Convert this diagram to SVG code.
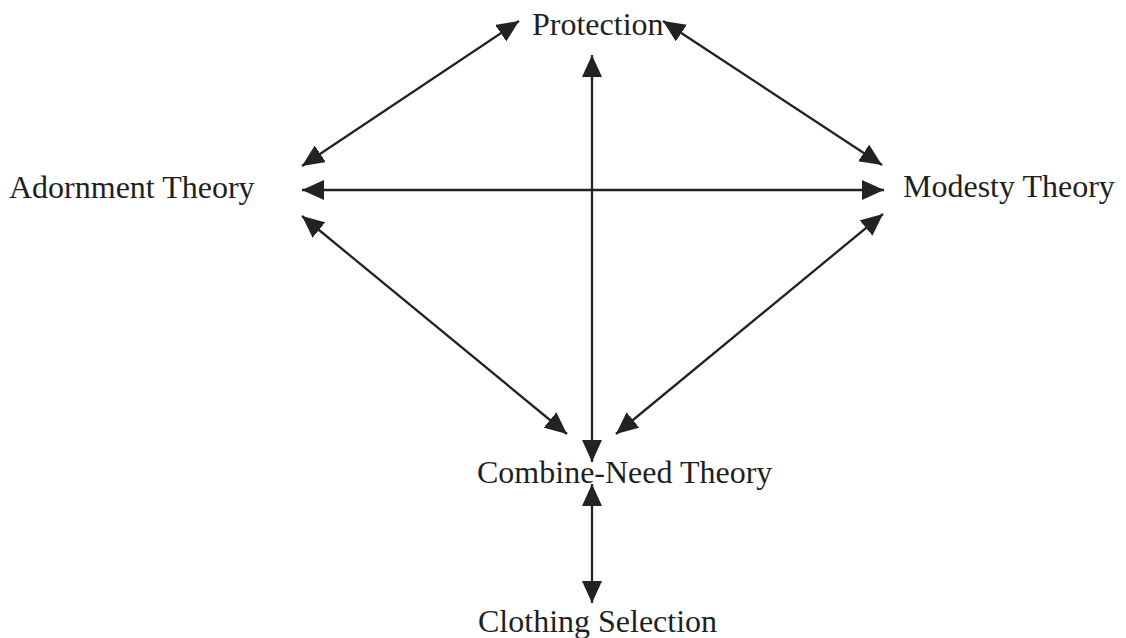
<svg xmlns="http://www.w3.org/2000/svg" width="1126" height="638" viewBox="0 0 1126 638">
  <style>
    .lbl { font-family: "Liberation Serif", "Times New Roman", serif; font-size: 32px; fill: #1f1f1f; }
    .conn { stroke: #222; stroke-width: 2.3; fill: none; marker-start: url(#ah); marker-end: url(#ah); }
  </style>
  <defs>
    <marker id="ah" markerUnits="userSpaceOnUse" markerWidth="22" markerHeight="20" refX="22" refY="10" orient="auto-start-reverse" viewBox="0 0 22 20">
      <path d="M0,0 L22,10 L0,20 Z" fill="#222"/>
    </marker>
  </defs>
  <rect width="1126" height="638" fill="#ffffff"/>
  <g id="connectors">
    <line class="conn" x1="519" y1="21" x2="302" y2="166"/>
    <line class="conn" x1="663" y1="21" x2="882" y2="165"/>
    <line class="conn" x1="592" y1="55" x2="592" y2="462"/>
    <line class="conn" x1="302" y1="190" x2="884" y2="190"/>
    <line class="conn" x1="302" y1="216" x2="567" y2="434"/>
    <line class="conn" x1="883" y1="214" x2="616" y2="434"/>
    <line class="conn" x1="592" y1="484" x2="592" y2="603"/>
  </g>
  <g id="protection"><text class="lbl" x="532" y="35">Protection</text></g>
  <g id="adornment"><text class="lbl" x="9" y="198">Adornment Theory</text></g>
  <g id="modesty"><text class="lbl" x="903" y="197">Modesty Theory</text></g>
  <g id="combine"><text class="lbl" x="477" y="483">Combine-Need Theory</text></g>
  <g id="clothing"><text class="lbl" x="478" y="632">Clothing Selection</text></g>
</svg>
